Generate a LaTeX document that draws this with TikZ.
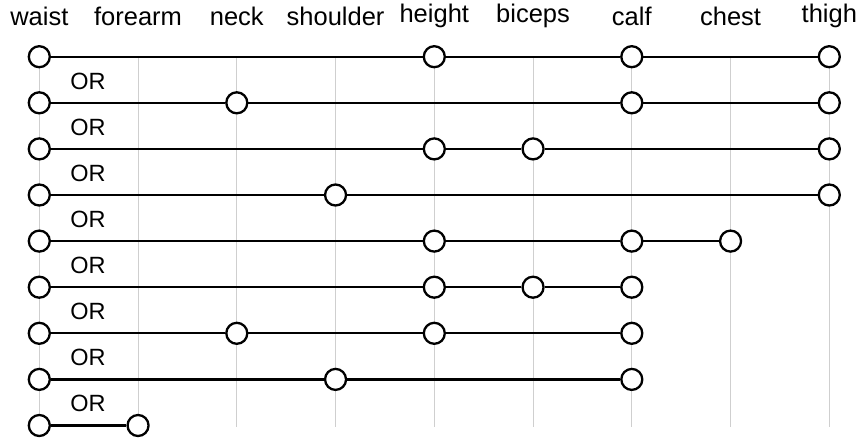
\documentclass[tikz,border=0pt]{standalone}
\usepackage{fontspec}
\setmainfont{Liberation Sans}
\begin{document}
\begin{tikzpicture}[x=1pt,y=-1pt,
  dot/.style={circle,draw=black,line width=2.3pt,fill=white,minimum size=21pt,inner sep=0pt},
  conn/.style={draw=black,line width=2.2pt},
  guide/.style={draw=black!19,line width=1pt},
  lab/.style={font=\fontsize{25.5}{29}\selectfont,inner sep=0pt},
  orlab/.style={font=\fontsize{23.5}{27}\selectfont,inner sep=0pt}]
\useasboundingbox (0,0) rectangle (859,440);
\def\colx#1{39.3+98.75*#1}
\def\rowy#1{56.7+46.1*(#1-1)}
% column labels
\foreach \n/\t in {0/waist,1/forearm,2/neck,3/shoulder,4/height,5/biceps,6/calf,7/chest,8/thigh}{
  \node[lab] (l\n) at ({\colx{\n}},16) {\t};
  \coordinate (t\n) at ({\colx{\n}},57);
  \coordinate (b\n) at ({\colx{\n}},427);
  \draw[guide] (t\n) -- (b\n);
}
% OR labels
\foreach \r in {1,...,8}{
  \node[orlab] (or\r) at (88,{\rowy{\r}+24.5}) {OR};
}
% rows
\foreach \r/\cols in {1/{0,4,6,8},2/{0,2,6,8},3/{0,4,5,8},4/{0,3,8},5/{0,4,6,7},6/{0,4,5,6},7/{0,2,4,6},8/{0,3,6},9/{0,1}}{
  \foreach \c in \cols {
    \node[dot] (c\r-\c) at ({\colx{\c}},{\rowy{\r}}) {};
  }
}
% connectors
\draw[conn] (c1-0) -- (c1-4) (c1-4) -- (c1-6) (c1-6) -- (c1-8);
\draw[conn] (c2-0) -- (c2-2) (c2-2) -- (c2-6) (c2-6) -- (c2-8);
\draw[conn] (c3-0) -- (c3-4) (c3-4) -- (c3-5) (c3-5) -- (c3-8);
\draw[conn] (c4-0) -- (c4-3) (c4-3) -- (c4-8);
\draw[conn] (c5-0) -- (c5-4) (c5-4) -- (c5-6) (c5-6) -- (c5-7);
\draw[conn] (c6-0) -- (c6-4) (c6-4) -- (c6-5) (c6-5) -- (c6-6);
\draw[conn] (c7-0) -- (c7-2) (c7-2) -- (c7-4) (c7-4) -- (c7-6);
\draw[conn] (c8-0) -- (c8-3) (c8-3) -- (c8-6);
\draw[conn] (c9-0) -- (c9-1);
\end{tikzpicture}
\end{document}
